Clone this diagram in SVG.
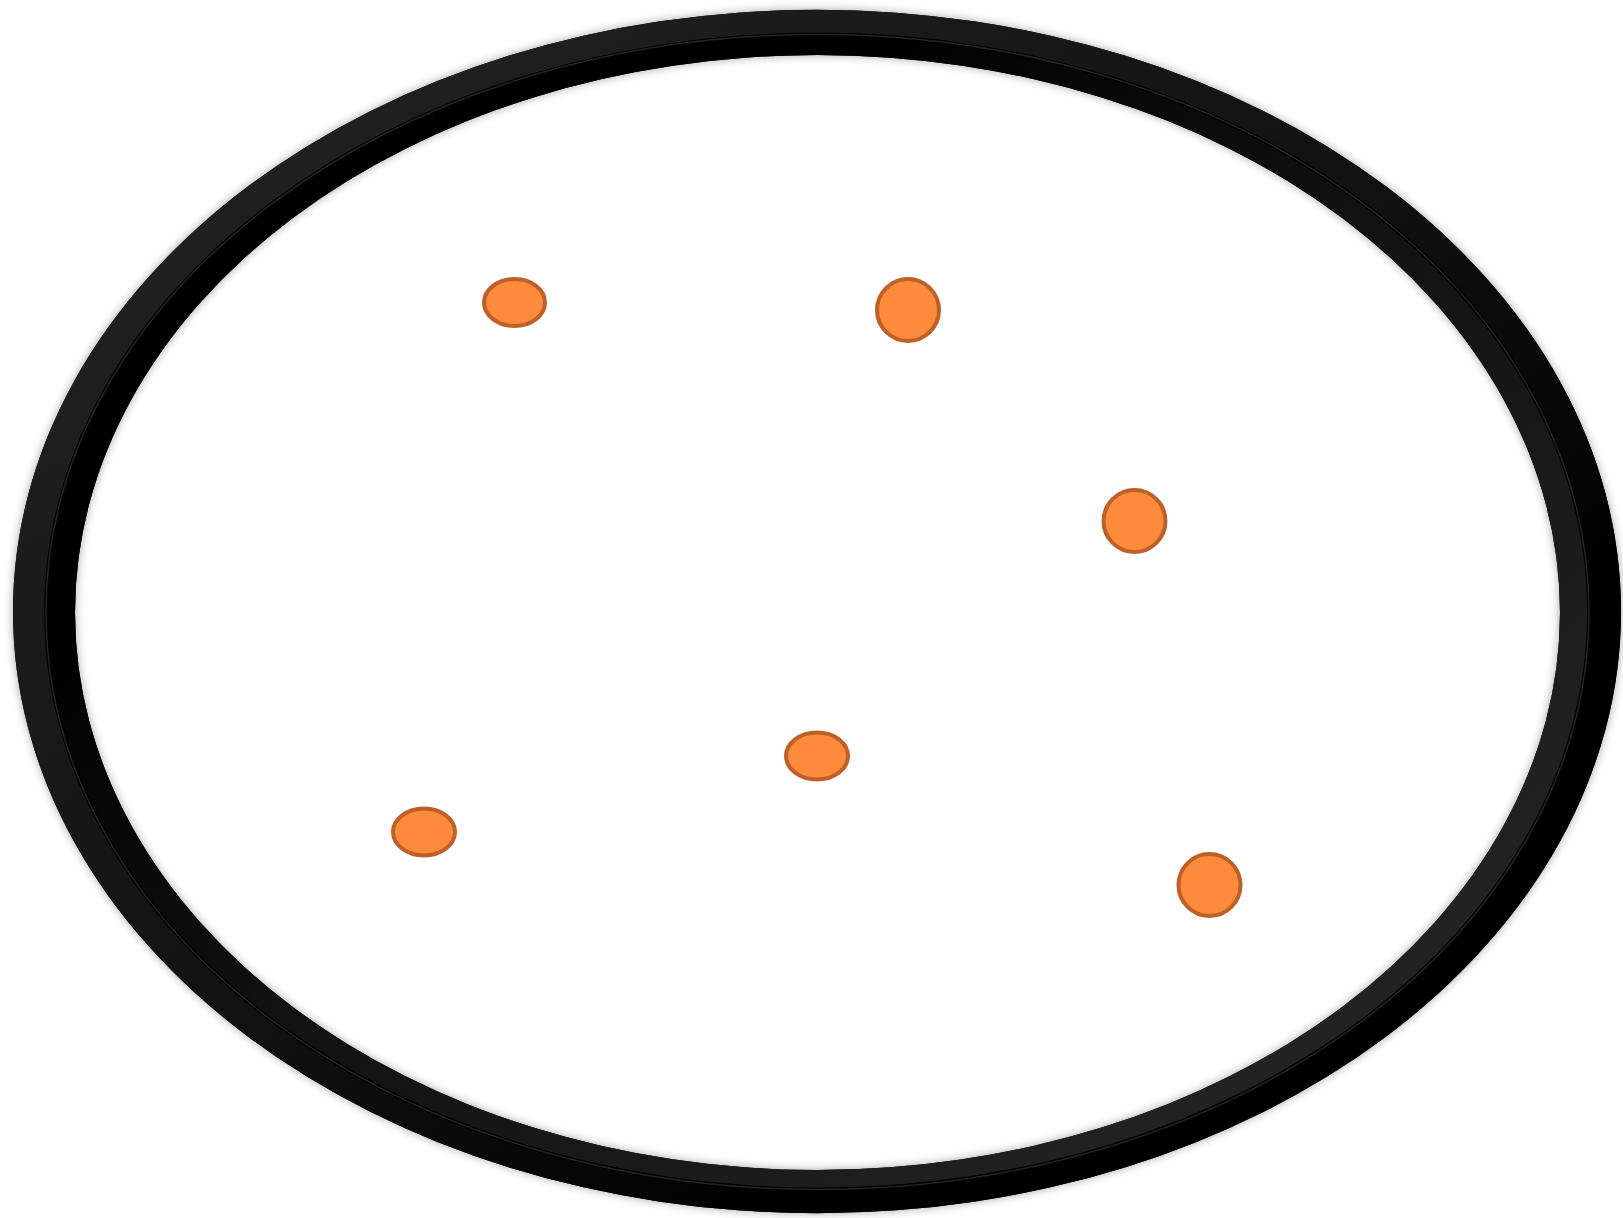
<svg xmlns="http://www.w3.org/2000/svg" width="1623" height="1218" viewBox="0 0 1623 1218">
  <style>
    .dot { fill: #FE8A3B; stroke: #BD6128; stroke-width: 4; }
  </style>
  <defs>
    <filter id="soft" x="-5%" y="-5%" width="110%" height="110%">
      <feDropShadow dx="0" dy="0" stdDeviation="5" flood-color="#000" flood-opacity="0.35"/>
    </filter>
    <linearGradient id="outerShade" x1="0" y1="0" x2="1" y2="1">
      <stop offset="0" stop-color="#262626"/>
      <stop offset="0.5" stop-color="#111"/>
      <stop offset="0.75" stop-color="#000"/>
    </linearGradient>
    <linearGradient id="innerShade" x1="0" y1="0" x2="1" y2="1">
      <stop offset="0.25" stop-color="#000"/>
      <stop offset="0.5" stop-color="#111"/>
      <stop offset="1" stop-color="#2a2a2a"/>
    </linearGradient>
  </defs>
  <rect width="1623" height="1218" fill="#fff"/>
  <g id="ring">
    <path filter="url(#soft)" fill="#000" fill-rule="evenodd" d="M13,611.5 a804,601.5 0 1 0 1608,0 a804,601.5 0 1 0 -1608,0 Z M75,612.5 a742.5,557.5 0 1 0 1485,0 a742.5,557.5 0 1 0 -1485,0 Z"/>
    <path fill="url(#outerShade)" fill-rule="evenodd" d="M13,611.5 a804,601.5 0 1 0 1608,0 a804,601.5 0 1 0 -1608,0 Z M44,612 a773.5,579.5 0 1 0 1547,0 a773.5,579.5 0 1 0 -1547,0 Z"/>
    <path fill="url(#innerShade)" fill-rule="evenodd" d="M48,612 a769.5,575.5 0 1 0 1539,0 a769.5,575.5 0 1 0 -1539,0 Z M75,612.5 a742.5,557.5 0 1 0 1485,0 a742.5,557.5 0 1 0 -1485,0 Z"/>
    <ellipse cx="817.5" cy="612" rx="771.5" ry="577.5" fill="none" stroke="#666" stroke-width="1.5" opacity="0.35"/>
  </g>
  <g id="dot1"><ellipse class="dot" cx="514.5" cy="302.5" rx="30.5" ry="23.5"/></g>
  <g id="dot2"><ellipse class="dot" cx="908" cy="310" rx="31" ry="31"/></g>
  <g id="dot3"><ellipse class="dot" cx="1134.5" cy="521" rx="31" ry="31"/></g>
  <g id="dot4"><ellipse class="dot" cx="817" cy="756" rx="31" ry="23.5"/></g>
  <g id="dot5"><ellipse class="dot" cx="424" cy="832" rx="31" ry="23.5"/></g>
  <g id="dot6"><ellipse class="dot" cx="1209.5" cy="885" rx="31" ry="31"/></g>
  <g id="connectors"/>
</svg>
